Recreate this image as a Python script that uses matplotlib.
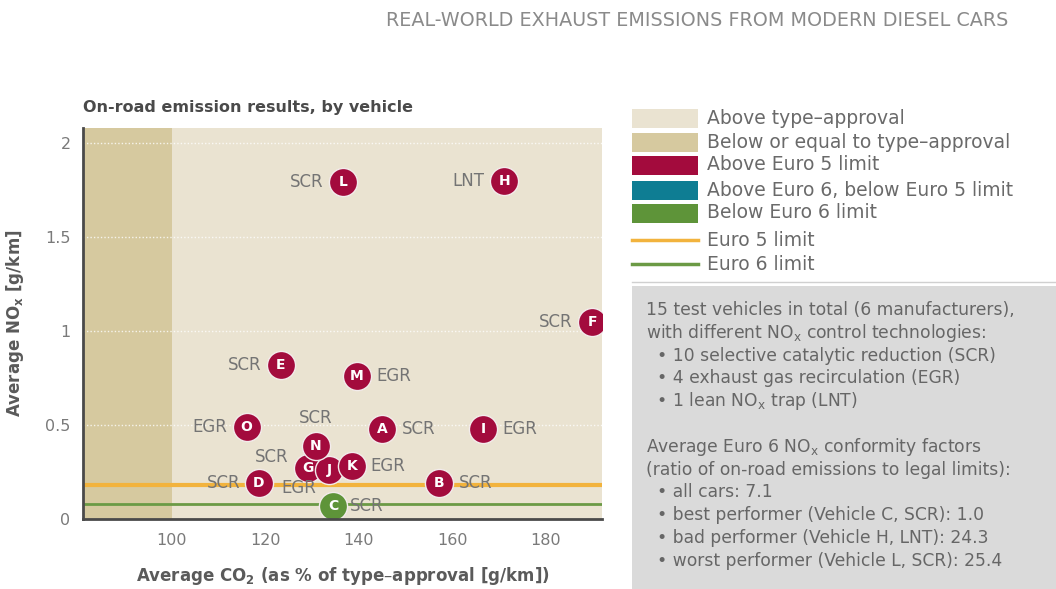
import matplotlib
matplotlib.use("Agg")
import matplotlib.pyplot as plt
from matplotlib.patches import Rectangle
from matplotlib.lines import Line2D

# vehicle data
vehicles = ["L", "H", "F", "E", "M", "O", "A", "I", "G", "J", "K", "N", "D", "B", "C"]
co2_pct = [136.6, 171.1, 189.9, 123.3, 139.6, 116.0, 145.0, 166.6, 129.1, 133.6, 138.5, 130.8, 118.6, 157.2, 134.5]
nox = [1.79, 1.80, 1.05, 0.82, 0.76, 0.49, 0.48, 0.48, 0.27, 0.26, 0.28, 0.39, 0.19, 0.19, 0.07]
tech = ["SCR", "LNT", "SCR", "SCR", "EGR", "EGR", "SCR", "EGR", "SCR", "EGR", "EGR", "SCR", "SCR", "SCR", "SCR"]

euro5_limit = 0.18
euro6_limit = 0.08
type_approval = 100

x_ticks = [100, 120, 140, 160, 180]
y_ticks = [0, 0.5, 1, 1.5, 2]

legend_labels = ["Above type\u2013approval", "Below or equal to type\u2013approval",
                 "Above Euro 5 limit", "Above Euro 6, below Euro 5 limit",
                 "Below Euro 6 limit", "Euro 5 limit", "Euro 6 limit"]

info_lines = [
    "15 test vehicles in total (6 manufacturers),",
    "with different NO$_\\mathregular{x}$ control technologies:",
    "  \u2022 10 selective catalytic reduction (SCR)",
    "  \u2022 4 exhaust gas recirculation (EGR)",
    "  \u2022 1 lean NO$_\\mathregular{x}$ trap (LNT)",
    "",
    "Average Euro 6 NO$_\\mathregular{x}$ conformity factors",
    "(ratio of on-road emissions to legal limits):",
    "  \u2022 all cars: 7.1",
    "  \u2022 best performer (Vehicle C, SCR): 1.0",
    "  \u2022 bad performer (Vehicle H, LNT): 24.3",
    "  \u2022 worst performer (Vehicle L, SCR): 25.4",
]

# colours
c_above_ta = "#EAE3D1"
c_below_ta = "#D6C99F"
c_red = "#A30B3D"
c_teal = "#0E7D93"
c_green = "#5E9439"
c_e5 = "#F2B33D"
c_e6 = "#6B9A45"
c_text = "#747474"

# label offsets in points (dx, dy, ha)
label_pos = {
    "L": (-14, 0, "right"), "H": (-14, 0, "right"), "F": (-14, 0, "right"),
    "E": (-14, 0, "right"), "M": (14, 0, "left"), "O": (-14, 0, "right"),
    "A": (14, 0, "left"), "I": (14, 0, "left"), "G": (-14, 8, "right"),
    "J": (-22, -13, "center"), "K": (13, 0, "left"), "N": (0, 20, "center"),
    "D": (-13, 0, "right"), "B": (14, 0, "left"), "C": (12, 0, "left"),
}

plt.rcParams["font.family"] = ["DejaVu Sans"]

fig = plt.figure(figsize=(10.56, 5.89), dpi=100)
ax = fig.add_axes([0.0786, 0.1188, 0.4915, 0.664])

ax.set_xlim(81, 192)
ax.set_ylim(0, 2.08)
ax.set_facecolor(c_above_ta)
ax.axvspan(81, type_approval, color=c_below_ta, lw=0, zorder=0)
for yv in y_ticks[1:]:
    ax.axhline(yv, color="white", lw=1, ls=(0, (1, 1.5)), zorder=1, alpha=0.8)

ax.axhline(euro5_limit, color=c_e5, lw=3, zorder=2)
ax.axhline(euro6_limit, color=c_e6, lw=2, zorder=2)

for i, v in enumerate(vehicles):
    if nox[i] > euro5_limit:
        col = c_red
    elif nox[i] > euro6_limit:
        col = c_teal
    else:
        col = c_green
    ax.scatter(co2_pct[i], nox[i], s=410, color=col, edgecolor="#F3ECEC",
               linewidth=1, zorder=3 + i * 0.01)
    ax.text(co2_pct[i], nox[i], v, color="white", fontsize=10, fontweight="bold",
            ha="center", va="center", zorder=3.5 + i * 0.01)
    dx, dy, ha = label_pos[v]
    ax.annotate(tech[i], (co2_pct[i], nox[i]), xytext=(dx, dy),
                textcoords="offset points", ha=ha, va="center",
                fontsize=12, color=c_text, zorder=5)

for s in ["top", "right"]:
    ax.spines[s].set_visible(False)
for s in ["left", "bottom"]:
    ax.spines[s].set_color("#4A4A4A")
    ax.spines[s].set_linewidth(2)
    ax.spines[s].set_zorder(6)

ax.set_xticks(x_ticks)
ax.set_yticks(y_ticks)
ax.set_yticklabels(["0", "0.5", "1", "1.5", "2"])
ax.tick_params(length=0, labelsize=11.5, labelcolor="#7A7A7A")
ax.tick_params(axis="x", pad=10)
ax.tick_params(axis="y", pad=9)

ax.set_xlabel("Average CO$_\\mathregular{2}$ (as % of type\u2013approval [g/km])",
              fontsize=12, color="#5A5A5A", fontweight="bold", labelpad=12)
ax.set_ylabel("Average NO$_\\mathregular{x}$ [g/km]", fontsize=12,
              color="#5A5A5A", fontweight="bold", labelpad=14)

fig.text(0.0786, 0.818, "On-road emission results, by vehicle", fontsize=11.5,
         fontweight="bold", color="#4A4A4A", ha="left", va="center")
fig.text(0.955, 0.966, "REAL-WORLD EXHAUST EMISSIONS FROM MODERN DIESEL CARS",
         fontsize=13.8, color="#8A8A8A", ha="right", va="center")

# legend
leg_ax = fig.add_axes([0, 0, 1, 1], facecolor="none")
leg_ax.set_xlim(0, 1056)
leg_ax.set_ylim(589, 0)
leg_ax.axis("off")
patch_cols = [c_above_ta, c_below_ta, c_red, c_teal, c_green]
row_y = [118, 142, 165, 190, 213, 240, 264]
for i, lab in enumerate(legend_labels):
    if i < 5:
        leg_ax.add_patch(Rectangle((632, row_y[i] - 9.5), 66, 19, color=patch_cols[i], lw=0))
    else:
        leg_ax.add_line(Line2D([632, 698], [row_y[i], row_y[i]],
                               color=c_e5 if i == 5 else c_e6, lw=2.5))
    leg_ax.text(707, row_y[i], lab, fontsize=13.5, color="#6A6A6A", va="center", ha="left")
leg_ax.add_line(Line2D([632, 1056], [282, 282], color="#D0D0D0", lw=1))

# info box
leg_ax.add_patch(Rectangle((632, 286), 430, 310, color="#DADADA", lw=0))
for i, line in enumerate(info_lines):
    leg_ax.text(646, 310 + i * 22.8, line, fontsize=12.3, color="#666666",
                va="center", ha="left")

fig.savefig("out.png", dpi=100, facecolor="white")
